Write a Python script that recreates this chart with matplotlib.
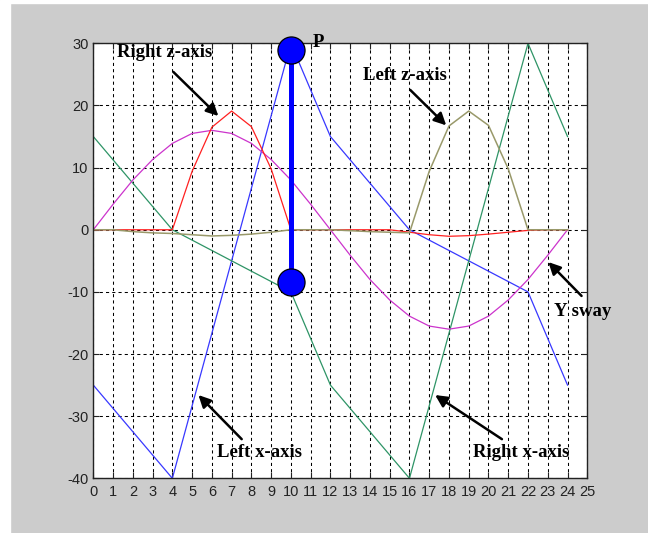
import matplotlib.pyplot as plt
from matplotlib.patches import Rectangle

plt.rcParams['axes.unicode_minus'] = False

# vertices of the four x/z traces and the sway curve
left_x_t = [0, 4, 10, 12, 16, 22, 24]
left_x_v = [-25, -40, 30, 15, 0, -10, -25]

right_x_t = [0, 4, 10, 12, 16, 22, 24]
right_x_v = [15, 0, -10, -25, -40, 30, 15]

t = list(range(25))
y_sway = [0, 4.1, 8, 11.3, 13.9, 15.5, 16, 15.5, 13.9, 11.3, 8, 4.1, 0,
          -4.1, -8, -11.3, -13.9, -15.5, -16, -15.5, -13.9, -11.3, -8, -4.1, 0]
right_z = [0, 0, 0, 0, 0, 9.4, 16.5, 19.1, 16.6, 9.8, 0, 0, 0, 0, 0, 0,
           -0.4, -0.8, -1.05, -0.95, -0.7, -0.4, -0.1, 0, 0]
left_z = [0, 0, -0.3, -0.5, -0.6, -0.8, -1.0, -0.9, -0.7, -0.4, 0, 0, 0,
          -0.15, -0.3, -0.4, -0.5, 9.4, 16.7, 19.1, 16.8, 9.8, 0, 0, 0]

pend_x = [10, 10]
pend_y = [29, -8.4]

labels = [("Right z-axis", 3.63, 28.6), ("Left z-axis", 15.75, 24.9),
          ("Left x-axis", 8.39, -35.85), ("Right x-axis", 21.67, -35.85),
          ("Y sway", 24.75, -13.1)]
arrows = [((4.05, 25.4), (6.33, 18.3)), ((16.04, 22.5), (17.86, 16.8)),
          ((24.71, -10.65), (23.03, -5.2)), ((7.51, -33.7), (5.32, -26.6)),
          ((20.68, -33.7), (17.3, -26.6))]

fig = plt.figure(figsize=(6.48, 5.33), dpi=100, facecolor='#cccccc')
fig.patches.append(Rectangle((0, 0), 10 / 648, 1, transform=fig.transFigure,
                             color='white', zorder=-10))
fig.patches.append(Rectangle((0, 530 / 533), 1, 3 / 533, transform=fig.transFigure,
                             color='white', zorder=-10))

ax = fig.add_axes([0.144, 0.1026, 0.7623, 0.8161])
ax.set_facecolor('white')

ax.plot(left_x_t, left_x_v, color='#3838ff', lw=0.9)
ax.plot(right_x_t, right_x_v, color='#2e9466', lw=0.9)
ax.plot(t, y_sway, color='#cc33cc', lw=0.9)
ax.plot(t, right_z, color='#ff2020', lw=0.9)
ax.plot(t, left_z, color='#99996a', lw=1.1)

ax.plot(pend_x, pend_y, color='#0000ff', lw=3.6, zorder=5)
ax.plot(pend_x, pend_y, 'o', ms=19.5, mfc='#0000ff', mec='black', mew=0.9, zorder=6,
        clip_on=False)
ax.text(11.39, 30.2, "P", family='Liberation Serif', weight='bold', fontsize=13.5,
        ha='center', va='center')

for txt, x, y in labels:
    ax.text(x, y, txt, family='Liberation Serif', weight='bold', fontsize=13.5,
            ha='center', va='center', zorder=7)
for (x0, y0), (x1, y1) in arrows:
    ax.annotate("", xy=(x1, y1), xytext=(x0, y0),
                arrowprops=dict(arrowstyle='-|>', color='black', lw=1.8,
                                mutation_scale=18, shrinkA=0, shrinkB=0))

ax.set_xlim(0, 25)
ax.set_ylim(-40, 30)
ax.set_xticks(range(26))
ax.set_yticks(range(-40, 31, 10))
ax.grid(True, color='black', ls=(0, (3, 3)), lw=0.75)
ax.tick_params(direction='in', length=4, top=True, right=True, labelsize=10.5,
               labelcolor='#222222', colors='#222222')
ax.tick_params(axis='x', pad=4.5)
ax.tick_params(axis='y', pad=3.5)
for lab in ax.get_xticklabels() + ax.get_yticklabels():
    lab.set_family('Liberation Sans')
for s in ax.spines.values():
    s.set_color('#222222')
    s.set_linewidth(1.0)

plt.savefig('out.png', dpi=100, facecolor=fig.get_facecolor())
plt.close()
